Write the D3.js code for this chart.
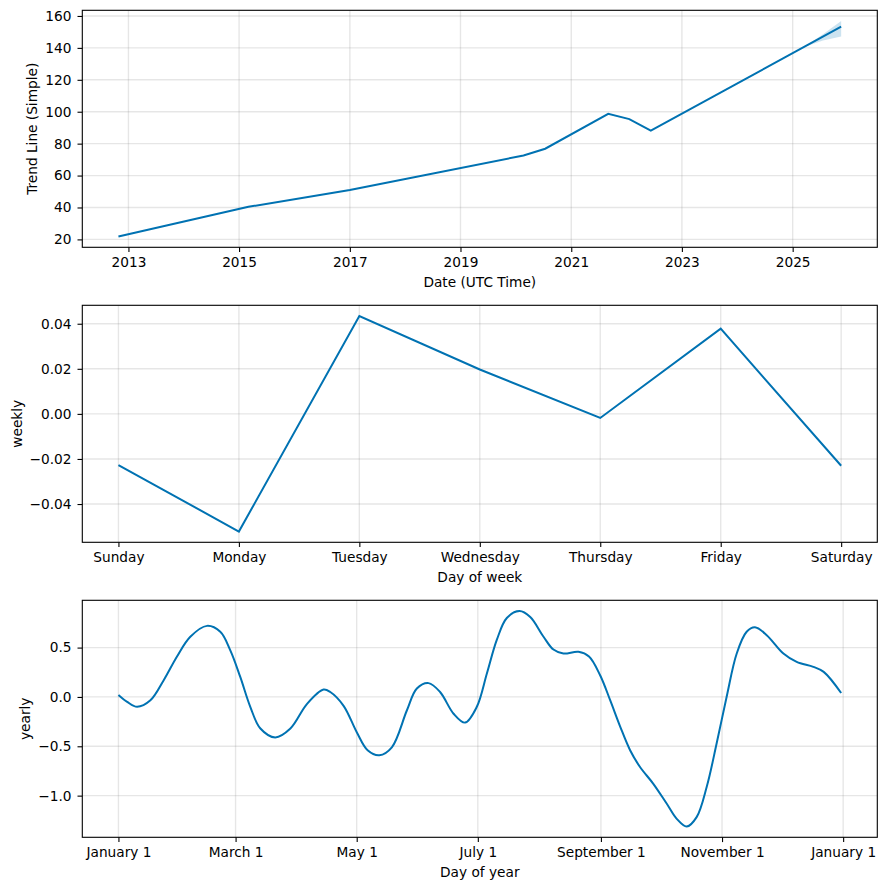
<!DOCTYPE html>
<html><head><meta charset="utf-8">
<script src="https://cdn.jsdelivr.net/npm/d3@7"></script>
<style>
body{margin:0;background:#fff}
svg{display:block}
text{font-family:"DejaVu Sans",sans-serif;font-size:13.7px;fill:#000}
</style>
</head><body><svg id="c" width="886" height="890"></svg>
<script>
// ---- data ----
const trendDates = ["2012-10-27","2015-03-04","2017-01-01","2020-02-21","2020-07-13","2021-09-02","2022-01-19","2022-06-10","2025-11-17"];
const trendValues = [21.8,40.4,50.9,72.6,76.8,98.7,95.4,88.1,153.3];
const bandDates = ["2025-03-18","2025-07-20","2025-11-17"];
const bandLower = [140.6,144.6,147.2];
const bandUpper = [140.6,148.6,156.8];
const trendTickYears = [2013,2015,2017,2019,2021,2023,2025];
const trendYTicks = [20,40,60,80,100,120,140,160];

const weekDays = ["Sunday","Monday","Tuesday","Wednesday","Thursday","Friday","Saturday"];
const weeklyValues = [-0.0227,-0.0522,0.0434,0.0197,-0.0018,0.0378,-0.0230];
const weeklyYTicks = [-0.04,-0.02,0,0.02,0.04];

const yearlyDays = [0,4.4,9.4,16.1,22.8,29.5,36.2,44.6,51.3,56.4,61.4,66.4,71.5,79,86.6,95,103.3,106.7,113.4,120.1,125.5,131.4,137.7,145.3,150.3,156.2,162,168.8,174.6,180.5,185.6,190.6,195.6,202,207.4,214.1,219.1,224.1,231.7,237,242.6,247.6,252.7,257.7,262.7,269.4,276.1,281.2,286.2,291.2,296.3,301.3,306.3,311.4,316.4,320.6,326.5,334.9,341.6,350,355.2,364];
const yearlyValues = [0.02,-0.05,-0.10,-0.034,0.17,0.41,0.61,0.72,0.66,0.47,0.20,-0.10,-0.32,-0.41,-0.32,-0.07,0.075,0.05,-0.09,-0.36,-0.54,-0.59,-0.51,-0.135,0.085,0.14,0.05,-0.17,-0.26,-0.10,0.24,0.58,0.80,0.87,0.81,0.61,0.48,0.44,0.457,0.41,0.22,-0.03,-0.30,-0.54,-0.71,-0.88,-1.08,-1.235,-1.313,-1.218,-0.91,-0.47,0.0,0.44,0.66,0.705,0.626,0.44,0.355,0.305,0.254,0.04];
const yearlyTickLabels = ["2017-01-01","2017-03-01","2017-05-01","2017-07-01","2017-09-01","2017-11-01","2018-01-01"];
const yearlyYTicks = [-1.0,-0.5,0.0,0.5];

// ---- layout ----
const svg = d3.select("#c");
const L = 82.3, R = 877.3;
const panels = [{top:10.3,bottom:247.3},{top:305.3,bottom:542.3},{top:600.3,bottom:837.3}];
const BLUE = "#0072B2";
const parse = d3.utcParse("%Y-%m-%d");

function pad(ext){const m=(ext[1]-ext[0])*0.05;return [ext[0]-m, ext[1]+m];}
function padTime(ext){const a=+ext[0],b=+ext[1],m=(b-a)*0.05;return [new Date(a-m), new Date(b+m)];}

function drawPanel(p, x, y, xTicks, xFmt, yTicks, yFmt, xlabel, ylabel, ylabelX, drawMarks){
  const g = svg.append("g");
  const grid = g.append("g").attr("stroke","#808080").attr("stroke-opacity",0.2).attr("stroke-width",1.37);
  xTicks.forEach(t=>grid.append("line").attr("x1",x(t)).attr("x2",x(t)).attr("y1",p.top).attr("y2",p.bottom));
  yTicks.forEach(t=>grid.append("line").attr("y1",y(t)).attr("y2",y(t)).attr("x1",L).attr("x2",R));
  const clip = "clip"+Math.round(p.top);
  svg.append("clipPath").attr("id",clip).append("rect").attr("x",L).attr("y",p.top).attr("width",R-L).attr("height",p.bottom-p.top);
  const mg = g.append("g").attr("clip-path",`url(#${clip})`);
  drawMarks(mg);
  const ax = g.append("g").attr("transform",`translate(0,${p.bottom})`)
    .call(d3.axisBottom(x).tickValues(xTicks).tickFormat(xFmt).tickSize(4.8).tickPadding(5.6));
  const ay = g.append("g").attr("transform",`translate(${L},0)`)
    .call(d3.axisLeft(y).tickValues(yTicks).tickFormat(yFmt).tickSize(4.8).tickPadding(6));
  [ax,ay].forEach(a=>{
    a.select(".domain").remove();
    a.selectAll(".tick line").attr("stroke","#000").attr("stroke-width",1.1);
    a.selectAll(".tick text").style("fill","#000");
    a.attr("font-size",null).attr("font-family",null);
  });
  g.append("rect").attr("x",L).attr("y",p.top).attr("width",R-L).attr("height",p.bottom-p.top)
    .attr("fill","none").attr("stroke","#000").attr("stroke-width",1.1);
  g.append("text").attr("x",(L+R)/2).attr("y",p.bottom+40).attr("text-anchor","middle").text(xlabel);
  g.append("text").attr("transform",`translate(${ylabelX},${(p.top+p.bottom)/2}) rotate(-90)`)
    .attr("text-anchor","middle").text(ylabel);
}

// ---- panel 1: trend ----
{
  const td = trendDates.map(parse), bd = bandDates.map(parse);
  const x = d3.scaleUtc().domain(padTime(d3.extent(td))).range([L,R]);
  const y = d3.scaleLinear().domain(pad([d3.min(trendValues), d3.max(bandUpper)])).range([panels[0].bottom, panels[0].top]);
  const xt = trendTickYears.map(yr=>new Date(Date.UTC(yr,0,1)));
  drawPanel(panels[0], x, y, xt, d3.utcFormat("%Y"), trendYTicks, d3.format("d"),
    "Date (UTC Time)", "Trend Line (Simple)", 36.5, g=>{
      const band = bd.map((d,i)=>({d, lo:bandLower[i], hi:bandUpper[i]}));
      g.append("path").datum(band).attr("fill",BLUE).attr("fill-opacity",0.2)
        .attr("d", d3.area().x(d=>x(d.d)).y0(d=>y(d.lo)).y1(d=>y(d.hi)));
      g.append("path").datum(td.map((d,i)=>[d,trendValues[i]])).attr("fill","none").attr("stroke",BLUE).attr("stroke-width",2)
        .attr("d", d3.line().x(d=>x(d[0])).y(d=>y(d[1])));
    });
}

// ---- panel 2: weekly ----
{
  const idx = weekDays.map((d,i)=>i);
  const x = d3.scaleLinear().domain(pad([0, weekDays.length-1])).range([L,R]);
  const y = d3.scaleLinear().domain(pad(d3.extent(weeklyValues))).range([panels[1].bottom, panels[1].top]);
  drawPanel(panels[1], x, y, idx, i=>weekDays[i], weeklyYTicks, d3.format(".2f"),
    "Day of week", "weekly", 21.5, g=>{
      g.append("path").datum(weeklyValues.map((v,i)=>[i,v])).attr("fill","none").attr("stroke",BLUE).attr("stroke-width",2)
        .attr("d", d3.line().x(d=>x(d[0])).y(d=>y(d[1])));
    });
}

// ---- panel 3: yearly ----
{
  const base = Date.UTC(2017,0,1), day = 864e5;
  const dates = yearlyDays.map(d=>new Date(base + d*day));
  const x = d3.scaleUtc().domain(padTime([new Date(base), new Date(base+364*day)])).range([L,R]);
  const y = d3.scaleLinear().domain(pad(d3.extent(yearlyValues))).range([panels[2].bottom, panels[2].top]);
  const xt = yearlyTickLabels.map(parse);
  drawPanel(panels[2], x, y, xt, d3.utcFormat("%B %-d"), yearlyYTicks, d3.format(".1f"),
    "Day of year", "yearly", 30, g=>{
      g.append("path").datum(dates.map((d,i)=>[d,yearlyValues[i]])).attr("fill","none").attr("stroke",BLUE).attr("stroke-width",2)
        .attr("d", d3.line().curve(d3.curveCatmullRom.alpha(0.5)).x(d=>x(d[0])).y(d=>y(d[1])));
    });
}
</script>
</body></html>
